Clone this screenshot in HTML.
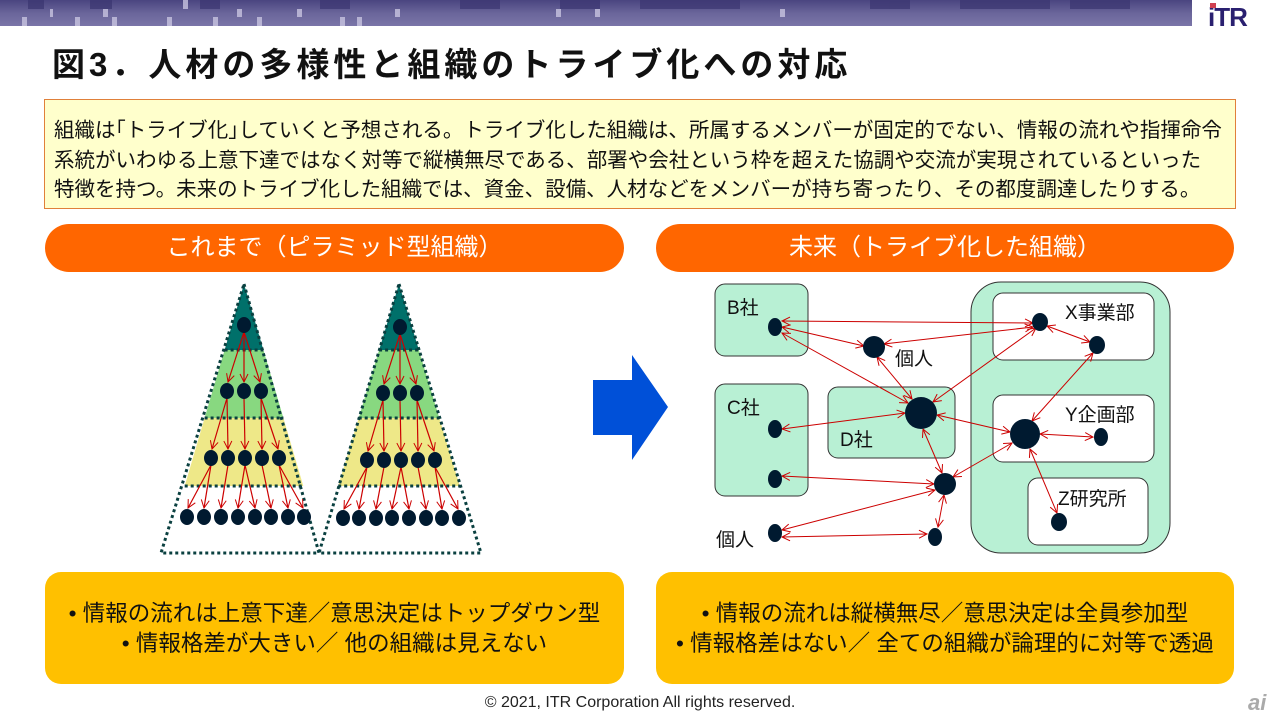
<!DOCTYPE html>
<html><head><meta charset="utf-8"><style>
body{margin:0;width:1280px;height:720px;background:#fff;position:relative;overflow:hidden;font-family:"Liberation Sans","Noto Sans CJK JP",sans-serif}
.abs{position:absolute}
.band{left:0;top:0;width:1192px;height:26px;background:linear-gradient(#4a4580,#6a659a 50%,#7a75a8)}
.t{left:52px;top:38px;font-size:33px;font-weight:bold;color:#111;white-space:nowrap;letter-spacing:4px}
.box{left:44px;top:99px;width:1192px;height:110px;background:#ffffcc;border:1px solid #e0803a;box-sizing:border-box}
.box div{position:absolute;left:9px;font-size:20.5px;color:#111;white-space:nowrap}
.pill{height:48px;background:#ff6600;border-radius:24px;color:#fff;font-size:24px;text-align:center;line-height:48px}
.yb{height:112px;background:#ffc000;border-radius:16px;font-size:22.5px;color:#111;text-align:center;line-height:30px;box-sizing:border-box;padding-top:27px}
</style></head><body>
<div class="abs band"></div>
<svg class="abs" style="left:0;top:0" width="1192" height="26">
<g fill="#3a3570" opacity=".7"><rect x="28" y="0" width="16" height="9"/><rect x="90" y="0" width="22" height="9"/><rect x="200" y="0" width="20" height="9"/><rect x="320" y="0" width="30" height="9"/><rect x="460" y="0" width="40" height="9"/><rect x="560" y="0" width="40" height="9"/><rect x="640" y="0" width="100" height="9"/><rect x="870" y="0" width="40" height="9"/><rect x="960" y="0" width="90" height="9"/><rect x="1070" y="0" width="60" height="9"/></g>
<g fill="#c8c4e0" opacity=".8"><rect x="183" y="0" width="5" height="9"/><rect x="50" y="9" width="3" height="8"/><rect x="103" y="9" width="5" height="8"/><rect x="237" y="9" width="5" height="8"/><rect x="297" y="9" width="5" height="8"/><rect x="395" y="9" width="5" height="8"/><rect x="556" y="9" width="5" height="8"/><rect x="22" y="17" width="5" height="9"/><rect x="75" y="17" width="5" height="9"/><rect x="112" y="17" width="5" height="9"/><rect x="167" y="17" width="5" height="9"/><rect x="213" y="17" width="5" height="9"/><rect x="257" y="17" width="5" height="9"/><rect x="340" y="17" width="5" height="9"/><rect x="357" y="17" width="5" height="9"/><rect x="595" y="9" width="5" height="8"/><rect x="780" y="9" width="5" height="8"/></g>
</svg>
<div class="abs" style="left:1208px;top:2px;font-size:26px;font-weight:bold;color:#2a2070;letter-spacing:-1px">iTR</div>
<div class="abs" style="left:1210px;top:3px;width:6px;height:5px;background:#d04050"></div>
<div class="abs t">図3．人材の多様性と組織のトライブ化への対応</div>
<div class="abs box">
<div style="top:13px">組織は｢トライブ化｣していくと予想される。トライブ化した組織は、所属するメンバーが固定的でない、情報の流れや指揮命令</div>
<div style="top:43px">系統がいわゆる上意下達ではなく対等で縦横無尽である、部署や会社という枠を超えた協調や交流が実現されているといった</div>
<div style="top:72px">特徴を持つ。未来のトライブ化した組織では、資金、設備、人材などをメンバーが持ち寄ったり、その都度調達したりする。</div>
</div>
<div class="abs pill" style="left:45px;top:224px;width:579px">これまで（ピラミッド型組織）</div>
<div class="abs pill" style="left:656px;top:224px;width:578px">未来（トライブ化した組織）</div>
<div class="abs yb" style="left:45px;top:572px;width:579px">• 情報の流れは上意下達／意思決定はトップダウン型<br>• 情報格差が大きい／ 他の組織は見えない</div>
<div class="abs yb" style="left:656px;top:572px;width:578px">• 情報の流れは縦横無尽／意思決定は全員参加型<br>• 情報格差はない／ 全ての組織が論理的に対等で透過</div>
<div class="abs" style="left:0;width:1280px;top:694px;text-align:center;font-size:16px;color:#222">© 2021, ITR Corporation All rights reserved.</div>
<div class="abs" style="left:1248px;top:690px;font-size:22px;font-style:italic;font-weight:bold;color:#aaa">ai</div>
<svg class="abs" style="left:0;top:0" width="1280" height="720">
<defs><marker id="a" markerWidth="10" markerHeight="10" refX="9" refY="5" orient="auto-start-reverse" markerUnits="userSpaceOnUse"><path d="M1,1 L9,5 L1,9" fill="none" stroke="#cc0000" stroke-width="1"/></marker></defs>
<polygon points="244,284 263.4,350 224.6,350" fill="#00706a"/>
<polygon points="224.6,350 263.4,350 283.4,418 204.6,418" fill="#88d880"/>
<polygon points="204.6,418 283.4,418 303.3,486 184.7,486" fill="#eee888"/>
<g stroke="#0a4040" stroke-width="3" stroke-dasharray="3,3" fill="none"><polygon points="244,284 319,553 161,553"/><line x1="224.6" y1="350" x2="263.4" y2="350"/><line x1="204.6" y1="418" x2="283.4" y2="418"/><line x1="184.7" y1="486" x2="303.3" y2="486"/></g>
<polygon points="399,284 418.9,350 379.1,350" fill="#00706a"/>
<polygon points="379.1,350 418.9,350 439.3,418 358.7,418" fill="#88d880"/>
<polygon points="358.7,418 439.3,418 459.8,486 338.2,486" fill="#eee888"/>
<g stroke="#0a4040" stroke-width="3" stroke-dasharray="3,3" fill="none"><polygon points="399,284 481,553 319,553"/><line x1="379.1" y1="350" x2="418.9" y2="350"/><line x1="358.7" y1="418" x2="439.3" y2="418"/><line x1="338.2" y1="486" x2="459.8" y2="486"/></g>
<g stroke="#cc0000" stroke-width="1.2" marker-end="url(#a)">
<line x1="244" y1="332" x2="228" y2="382"/><line x1="244" y1="332" x2="244" y2="382"/><line x1="244" y1="332" x2="260" y2="382"/>
<line x1="227" y1="398" x2="212" y2="449"/><line x1="227" y1="398" x2="228" y2="449"/><line x1="244" y1="398" x2="245" y2="449"/><line x1="261" y1="398" x2="262" y2="449"/><line x1="261" y1="398" x2="278" y2="449"/>
<line x1="211" y1="465" x2="188" y2="508"/><line x1="211" y1="465" x2="204" y2="508"/><line x1="228" y1="465" x2="221" y2="508"/><line x1="245" y1="465" x2="238" y2="508"/><line x1="245" y1="465" x2="255" y2="508"/><line x1="262" y1="465" x2="271" y2="508"/><line x1="279" y1="465" x2="288" y2="508"/><line x1="279" y1="465" x2="303" y2="508"/>
<line x1="400" y1="334" x2="384" y2="384"/><line x1="400" y1="334" x2="400" y2="384"/><line x1="400" y1="334" x2="416" y2="384"/>
<line x1="383" y1="400" x2="368" y2="451"/><line x1="383" y1="400" x2="384" y2="451"/><line x1="400" y1="400" x2="401" y2="451"/><line x1="417" y1="400" x2="418" y2="451"/><line x1="417" y1="400" x2="434" y2="451"/>
<line x1="367" y1="467" x2="344" y2="509"/><line x1="367" y1="467" x2="359" y2="509"/><line x1="384" y1="467" x2="376" y2="509"/><line x1="401" y1="467" x2="392" y2="509"/><line x1="401" y1="467" x2="409" y2="509"/><line x1="418" y1="467" x2="426" y2="509"/><line x1="435" y1="467" x2="442" y2="509"/><line x1="435" y1="467" x2="458" y2="509"/>
</g>
<g fill="#001a30">
<ellipse cx="244" cy="325" rx="7" ry="8"/><ellipse cx="227" cy="391" rx="7" ry="8"/><ellipse cx="244" cy="391" rx="7" ry="8"/><ellipse cx="261" cy="391" rx="7" ry="8"/>
<ellipse cx="211" cy="458" rx="7" ry="8"/><ellipse cx="228" cy="458" rx="7" ry="8"/><ellipse cx="245" cy="458" rx="7" ry="8"/><ellipse cx="262" cy="458" rx="7" ry="8"/><ellipse cx="279" cy="458" rx="7" ry="8"/>
<ellipse cx="187" cy="517" rx="7" ry="8"/><ellipse cx="204" cy="517" rx="7" ry="8"/><ellipse cx="221" cy="517" rx="7" ry="8"/><ellipse cx="238" cy="517" rx="7" ry="8"/><ellipse cx="255" cy="517" rx="7" ry="8"/><ellipse cx="271" cy="517" rx="7" ry="8"/><ellipse cx="288" cy="517" rx="7" ry="8"/><ellipse cx="304" cy="517" rx="7" ry="8"/>
<ellipse cx="400" cy="327" rx="7" ry="8"/><ellipse cx="383" cy="393" rx="7" ry="8"/><ellipse cx="400" cy="393" rx="7" ry="8"/><ellipse cx="417" cy="393" rx="7" ry="8"/>
<ellipse cx="367" cy="460" rx="7" ry="8"/><ellipse cx="384" cy="460" rx="7" ry="8"/><ellipse cx="401" cy="460" rx="7" ry="8"/><ellipse cx="418" cy="460" rx="7" ry="8"/><ellipse cx="435" cy="460" rx="7" ry="8"/>
<ellipse cx="343" cy="518" rx="7" ry="8"/><ellipse cx="359" cy="518" rx="7" ry="8"/><ellipse cx="376" cy="518" rx="7" ry="8"/><ellipse cx="392" cy="518" rx="7" ry="8"/><ellipse cx="409" cy="518" rx="7" ry="8"/><ellipse cx="426" cy="518" rx="7" ry="8"/><ellipse cx="442" cy="518" rx="7" ry="8"/><ellipse cx="459" cy="518" rx="7" ry="8"/>
</g>
<polygon points="593,380 632,380 632,355 668,407 632,460 632,435 593,435" fill="#0050d8"/>
<g stroke="#333" stroke-width="1" fill="#b8f0d4">
<rect x="715" y="284" width="93" height="72" rx="10"/>
<rect x="715" y="384" width="93" height="112" rx="10"/>
<rect x="828" y="387" width="127" height="71" rx="10"/>
<rect x="971" y="282" width="199" height="271" rx="30"/>
<rect x="993" y="293" width="161" height="67" rx="10" fill="#fff"/>
<rect x="993" y="395" width="161" height="67" rx="10" fill="#fff"/>
<rect x="1028" y="478" width="120" height="67" rx="10" fill="#fff"/>
</g>
<g font-size="19" fill="#111">
<text x="727" y="314">B社</text><text x="895" y="365">個人</text><text x="727" y="414">C社</text><text x="840" y="446">D社</text>
<text x="1065" y="319">X事業部</text><text x="1065" y="421">Y企画部</text><text x="1058" y="505">Z研究所</text><text x="716" y="546">個人</text>
</g>
<g stroke="#cc0000" stroke-width="1" marker-start="url(#a)" marker-end="url(#a)">
<line x1="782" y1="321" x2="1033" y2="323"/>
<line x1="782" y1="327" x2="864" y2="346"/>
<line x1="782" y1="333" x2="908" y2="403"/>
<line x1="884" y1="344" x2="1033" y2="327"/>
<line x1="877" y1="357" x2="912" y2="399"/>
<line x1="1047" y1="326" x2="1090" y2="342"/>
<line x1="1093" y1="353" x2="1032" y2="421"/>
<line x1="933" y1="402" x2="1036" y2="328"/>
<line x1="782" y1="429" x2="905" y2="413"/>
<line x1="937" y1="415" x2="1010" y2="432"/>
<line x1="923" y1="429" x2="942" y2="473"/>
<line x1="782" y1="476" x2="934" y2="484"/>
<line x1="953" y1="477" x2="1012" y2="443"/>
<line x1="782" y1="530" x2="935" y2="490"/>
<line x1="782" y1="537" x2="927" y2="534"/>
<line x1="944" y1="495" x2="938" y2="527"/>
<line x1="1040" y1="434" x2="1093" y2="437"/>
<line x1="1030" y1="449" x2="1057" y2="513"/>
</g>
<g fill="#001a30">
<ellipse cx="775" cy="327" rx="7" ry="9"/><circle cx="874" cy="347" r="11"/><circle cx="921" cy="413" r="16"/>
<ellipse cx="775" cy="429" rx="7" ry="9"/><ellipse cx="775" cy="479" rx="7" ry="9"/><circle cx="945" cy="484" r="11"/>
<ellipse cx="1040" cy="322" rx="8" ry="9"/><ellipse cx="1097" cy="345" rx="8" ry="9"/><circle cx="1025" cy="434" r="15"/>
<ellipse cx="1101" cy="437" rx="7" ry="9"/><ellipse cx="1059" cy="522" rx="8" ry="9"/><ellipse cx="775" cy="533" rx="7" ry="9"/><ellipse cx="935" cy="537" rx="7" ry="9"/>
</g>
</svg>
</body></html>
